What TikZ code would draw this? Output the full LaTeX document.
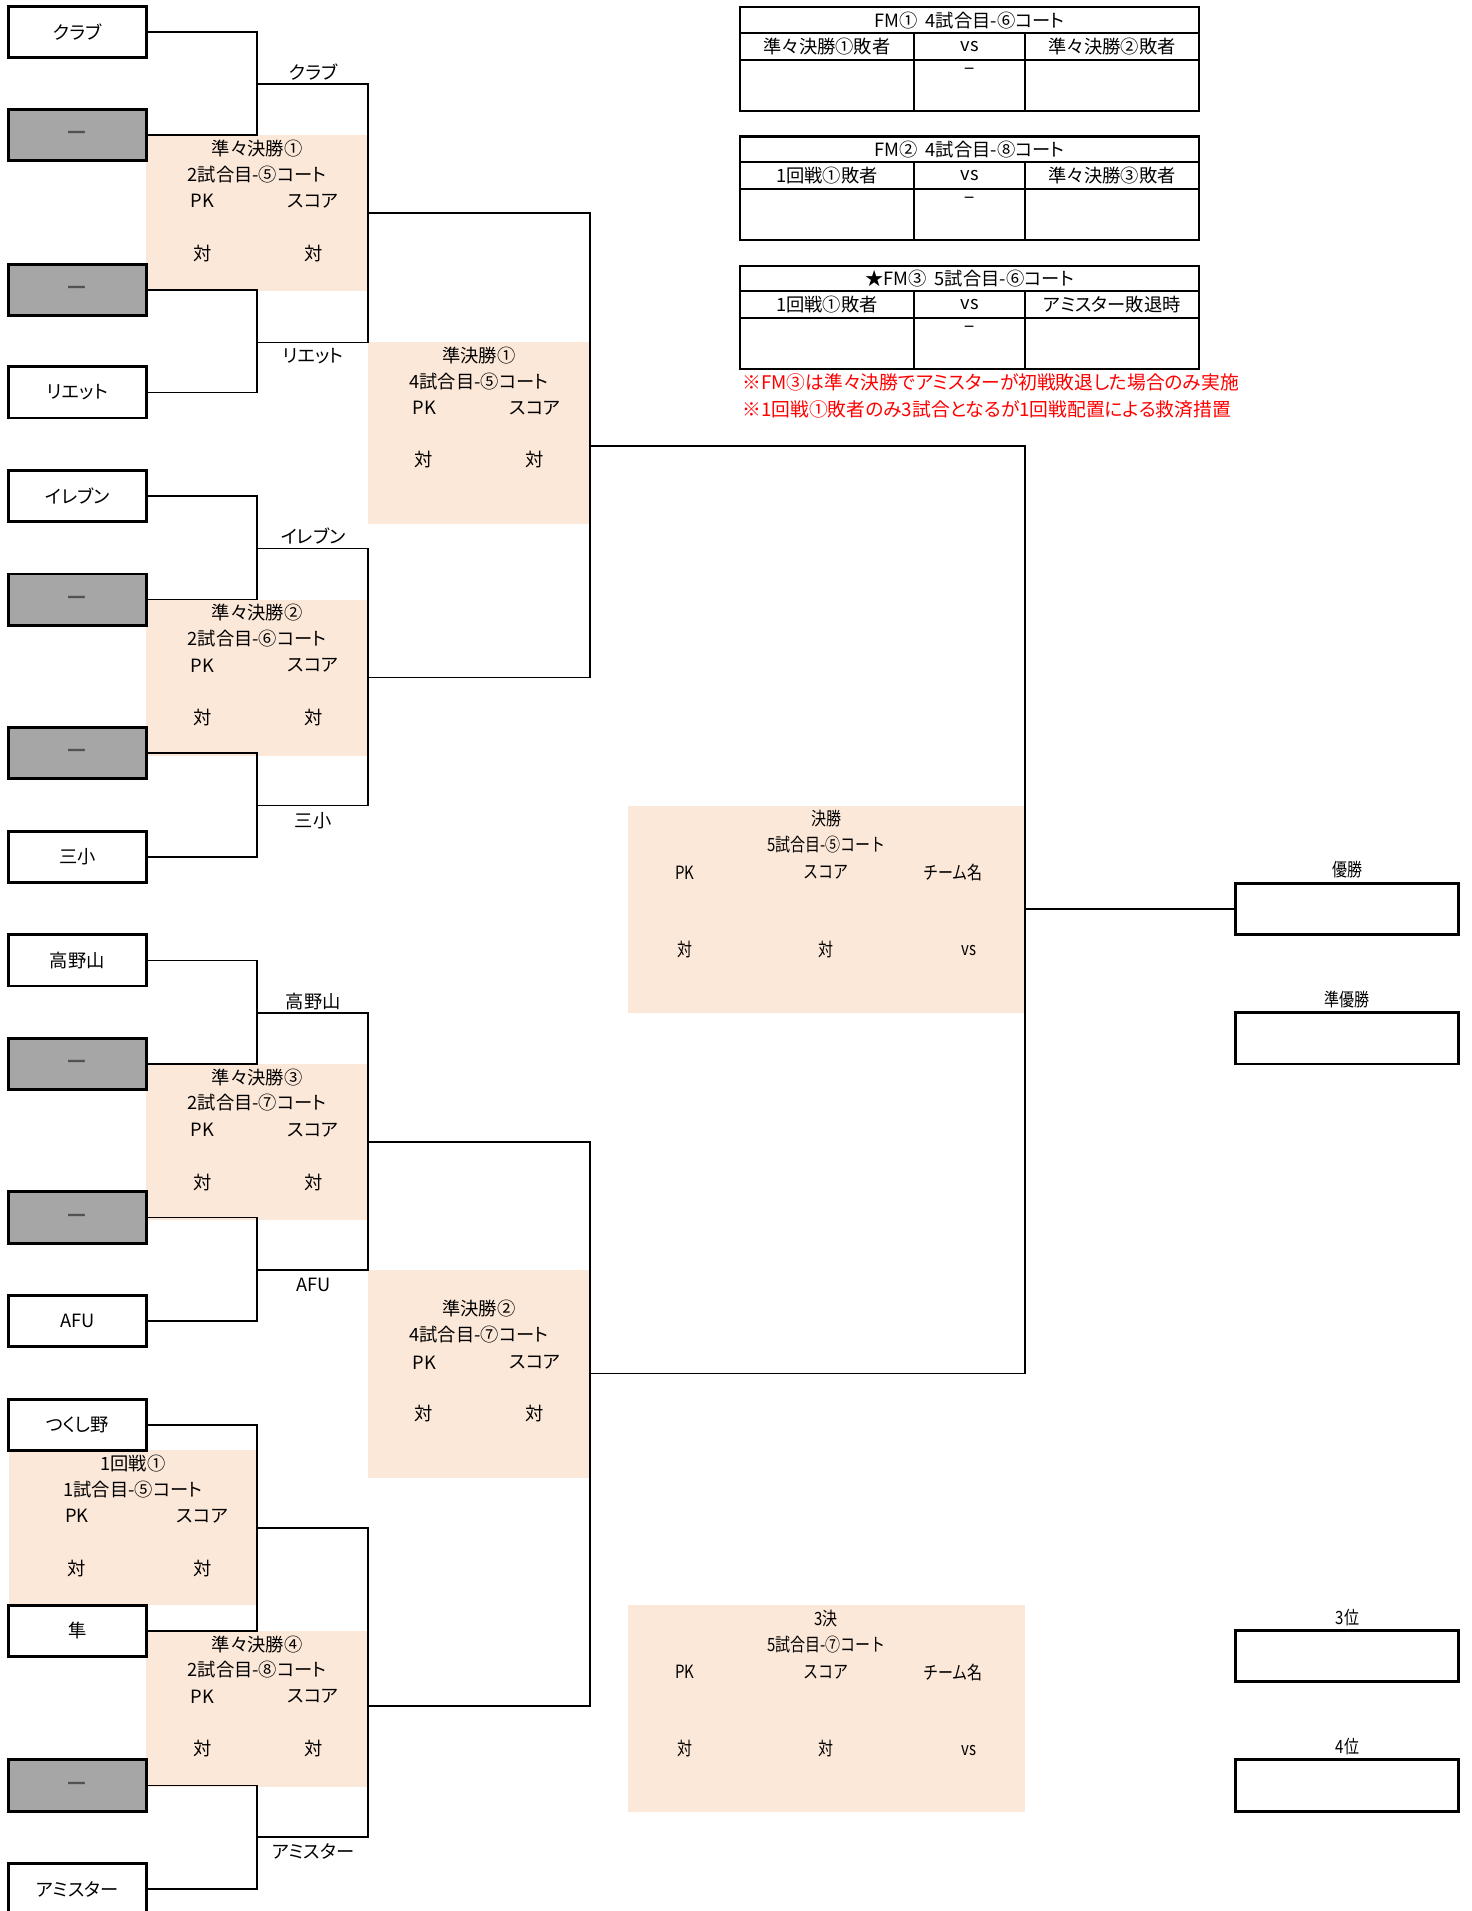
\documentclass[tikz,border=0pt]{standalone}
\usepackage{fontspec}
\setmainfont{Noto Sans CJK JP}[RawFeature=+palt]
\newfontfamily\narrowfont{Noto Sans CJK JP}[FakeStretch=0.82]
\newfontfamily\plainfont{Noto Sans CJK JP}
\usetikzlibrary{positioning}
\definecolor{peach}{RGB}{252,232,217}
\definecolor{slot}{RGB}{166,166,166}
\tikzset{
  team/.style={draw,line width=2.4pt,minimum width=113pt,minimum height=42pt,inner sep=0pt,outer sep=0pt,font=\fontsize{15}{17}\selectfont},
  bye/.style={team,fill=slot,text=black!68,font=\plainfont\bfseries\fontsize{17}{17}\selectfont},
  wire/.style={line width=1.4pt},
  match/.style={fill=peach,inner sep=0pt,outer sep=0pt,anchor=north west},
  txt/.style={inner sep=0pt,font=\fontsize{15}{17}\selectfont},
  ntxt/.style={inner sep=0pt,font=\narrowfont\fontsize{15}{17}\selectfont},
  cell/.style={draw,line width=1.8pt,inner sep=0pt,outer sep=0pt,anchor=north west,font=\fontsize{15}{17}\selectfont},
  prize/.style={draw,line width=2.4pt,minimum width=183pt,minimum height=42pt,inner sep=0pt,outer sep=0pt,anchor=north west},
  note/.style={inner sep=0pt,text=red,anchor=west,font=\fontsize{15.4}{17}\selectfont}
}

\begin{document}
\begin{tikzpicture}[x=1pt,y=-1pt]
\useasboundingbox (0,0) rectangle (1207,1568);
\clip (0,0) rectangle (1207,1568);

% match panels
\node[match,minimum width=182pt,minimum height=128pt] (qf1) at (120,111) {};
\node[match,minimum width=182pt,minimum height=128pt] (qf2) at (120,492) {};
\node[match,minimum width=182pt,minimum height=128pt] (qf3) at (120,873) {};
\node[match,minimum width=182pt,minimum height=128pt] (qf4) at (120,1338) {};
\node[match,minimum width=204pt,minimum height=127pt] (r1) at (7,1190) {};
\node[match,minimum width=182pt,minimum height=149pt] (sf1) at (302,281) {};
\node[match,minimum width=182pt,minimum height=171pt] (sf2) at (302,1042) {};
\node[match,minimum width=326pt,minimum height=170pt] (fnl) at (515,661) {};
\node[match,minimum width=326pt,minimum height=170pt] (thd) at (515,1317) {};

\node[txt] (qf1a) at ([yshift=-11pt]qf1.north) {準々決勝①}; \node[txt] (qf1b) at ([yshift=-32pt]qf1.north) {2試合目-⑤コート};
\node[txt] (qf1c) at ([xshift=-45pt,yshift=-54pt]qf1.north) {PK}; \node[txt] (qf1d) at ([xshift=46pt,yshift=-54pt]qf1.north) {スコア};
\node[txt] (qf1e) at ([xshift=-45pt,yshift=-97pt]qf1.north) {対}; \node[txt] (qf1f) at ([xshift=46pt,yshift=-97pt]qf1.north) {対};
\node[txt] (qf2a) at ([yshift=-11pt]qf2.north) {準々決勝②}; \node[txt] (qf2b) at ([yshift=-32pt]qf2.north) {2試合目-⑥コート};
\node[txt] (qf2c) at ([xshift=-45pt,yshift=-54pt]qf2.north) {PK}; \node[txt] (qf2d) at ([xshift=46pt,yshift=-54pt]qf2.north) {スコア};
\node[txt] (qf2e) at ([xshift=-45pt,yshift=-97pt]qf2.north) {対}; \node[txt] (qf2f) at ([xshift=46pt,yshift=-97pt]qf2.north) {対};
\node[txt] (qf3a) at ([yshift=-11pt]qf3.north) {準々決勝③}; \node[txt] (qf3b) at ([yshift=-32pt]qf3.north) {2試合目-⑦コート};
\node[txt] (qf3c) at ([xshift=-45pt,yshift=-54pt]qf3.north) {PK}; \node[txt] (qf3d) at ([xshift=46pt,yshift=-54pt]qf3.north) {スコア};
\node[txt] (qf3e) at ([xshift=-45pt,yshift=-97pt]qf3.north) {対}; \node[txt] (qf3f) at ([xshift=46pt,yshift=-97pt]qf3.north) {対};
\node[txt] (qf4a) at ([yshift=-11pt]qf4.north) {準々決勝④}; \node[txt] (qf4b) at ([yshift=-32pt]qf4.north) {2試合目-⑧コート};
\node[txt] (qf4c) at ([xshift=-45pt,yshift=-54pt]qf4.north) {PK}; \node[txt] (qf4d) at ([xshift=46pt,yshift=-54pt]qf4.north) {スコア};
\node[txt] (qf4e) at ([xshift=-45pt,yshift=-97pt]qf4.north) {対}; \node[txt] (qf4f) at ([xshift=46pt,yshift=-97pt]qf4.north) {対};
\node[txt] (r1a) at ([yshift=-11pt]r1.north) {1回戦①}; \node[txt] (r1b) at ([yshift=-32pt]r1.north) {1試合目-⑤コート};
\node[txt] (r1c) at ([xshift=-46pt,yshift=-54pt]r1.north) {PK}; \node[txt] (r1d) at ([xshift=57pt,yshift=-54pt]r1.north) {スコア};
\node[txt] (r1e) at ([xshift=-46pt,yshift=-97pt]r1.north) {対}; \node[txt] (r1f) at ([xshift=57pt,yshift=-97pt]r1.north) {対};
\node[txt] (sf1a) at ([yshift=-11pt]sf1.north) {準決勝①}; \node[txt] (sf1b) at ([yshift=-32pt]sf1.north) {4試合目-⑤コート};
\node[txt] (sf1c) at ([xshift=-45pt,yshift=-54pt]sf1.north) {PK}; \node[txt] (sf1d) at ([xshift=46pt,yshift=-54pt]sf1.north) {スコア};
\node[txt] (sf1e) at ([xshift=-45pt,yshift=-96pt]sf1.north) {対}; \node[txt] (sf1f) at ([xshift=46pt,yshift=-96pt]sf1.north) {対};
\node[txt] (sf2a) at ([yshift=-32pt]sf2.north) {準決勝②}; \node[txt] (sf2b) at ([yshift=-53pt]sf2.north) {4試合目-⑦コート};
\node[txt] (sf2c) at ([xshift=-45pt,yshift=-76pt]sf2.north) {PK}; \node[txt] (sf2d) at ([xshift=46pt,yshift=-76pt]sf2.north) {スコア};
\node[txt] (sf2e) at ([xshift=-45pt,yshift=-118pt]sf2.north) {対}; \node[txt] (sf2f) at ([xshift=46pt,yshift=-118pt]sf2.north) {対};
\node[ntxt] (fnla) at ([yshift=-11pt]fnl.north) {決勝}; \node[ntxt] (fnlb) at ([yshift=-32pt]fnl.north) {5試合目-⑤コート};
\node[ntxt] (fnlc) at ([xshift=-116pt,yshift=-55pt]fnl.north) {PK}; \node[ntxt] (fnld) at ([yshift=-55pt]fnl.north) {スコア}; \node[ntxt] (fnle) at ([xshift=104pt,yshift=-55pt]fnl.north) {チーム名};
\node[ntxt] (fnlf) at ([xshift=-116pt,yshift=-118pt]fnl.north) {対}; \node[ntxt] (fnlg) at ([yshift=-118pt]fnl.north) {対}; \node[ntxt] (fnlh) at ([xshift=117pt,yshift=-119pt]fnl.north) {vs};
\node[ntxt] (thda) at ([yshift=-11pt]thd.north) {3決}; \node[ntxt] (thdb) at ([yshift=-32pt]thd.north) {5試合目-⑦コート};
\node[ntxt] (thdc) at ([xshift=-116pt,yshift=-55pt]thd.north) {PK}; \node[ntxt] (thdd) at ([yshift=-55pt]thd.north) {スコア}; \node[ntxt] (thde) at ([xshift=104pt,yshift=-55pt]thd.north) {チーム名};
\node[ntxt] (thdf) at ([xshift=-116pt,yshift=-118pt]thd.north) {対}; \node[ntxt] (thdg) at ([yshift=-118pt]thd.north) {対}; \node[ntxt] (thdh) at ([xshift=117pt,yshift=-119pt]thd.north) {vs};

% teams
\node[team,anchor=north west] (t1) at (7,5) {クラブ};
\node[bye,below=43pt of t1] (t2) {—};
\node[bye,below=85pt of t2] (t3) {—};
\node[team,below=42pt of t3] (t4) {リエット};
\node[team,below=43pt of t4] (t5) {イレブン};
\node[bye,below=43pt of t5] (t6) {—};
\node[bye,below=84pt of t6] (t7) {—};
\node[team,below=43pt of t7] (t8) {三小};
\node[team,below=43pt of t8] (t9) {高野山};
\node[bye,below=43pt of t9] (t10) {—};
\node[bye,below=84pt of t10] (t11) {—};
\node[team,below=43pt of t11] (t12) {AFU};
\node[team,below=43pt of t12] (t13) {つくし野};
\node[team,below=127pt of t13] (t14) {隼};
\node[bye,below=85pt of t14] (t15) {—};
\node[team,below=43pt of t15] (t16) {アミスター};

% bracket
\coordinate (j1) at (211,69); \coordinate (j2) at (211,281);
\coordinate (j3) at (211,450); \coordinate (j4) at (211,661);
\coordinate (j5) at (211,831); \coordinate (j6) at (211,1042);
\coordinate (j7) at (211,1254); \coordinate (j8) at (211,1507);
\coordinate (q1) at (302,175); \coordinate (q2) at (302,556);
\coordinate (q3) at (302,937); \coordinate (q4) at (302,1400);
\coordinate (s1) at (484,366); \coordinate (s2) at (484,1127);
\coordinate (fin) at (841,746);
\draw[wire] (t1.east) -| (j1) |- (t2.east); \draw[wire] (t3.east) -| (j2) |- (t4.east);
\draw[wire] (t5.east) -| (j3) |- (t6.east); \draw[wire] (t7.east) -| (j4) |- (t8.east);
\draw[wire] (t9.east) -| (j5) |- (t10.east); \draw[wire] (t11.east) -| (j6) |- (t12.east);
\draw[wire] (t13.east) -| (j7) |- (t14.east); \draw[wire] (t15.east) -| (j8) |- (t16.east);
\draw[wire] (j1) -| (q1) |- (j2); \draw[wire] (j3) -| (q2) |- (j4);
\draw[wire] (j5) -| (q3) |- (j6); \draw[wire] (j7) -| (q4) |- (j8);
\draw[wire] (q1) -| (s1) |- (q2); \draw[wire] (q3) -| (s2) |- (q4);
\draw[wire] (s1) -| (fin) |- (s2);

\node[txt] (w1) at (257,59) {クラブ}; \node[txt] (w2) at (257,292) {リエット};
\node[txt] (w3) at (257,440) {イレブン}; \node[txt] (w4) at (257,673) {三小};
\node[txt] (w5) at (257,822) {高野山}; \node[txt] (w6) at (257,1054) {AFU};
\node[txt] (w8) at (257,1519) {アミスター};

% placings
\node[prize] (champ) at (1014,725) {}; \node[ntxt,above=4pt of champ] (champl) {優勝};
\node[prize] (second) at (1014,831) {}; \node[ntxt,above=4pt of second] (secondl) {準優勝};
\node[prize] (third) at (1014,1338) {}; \node[ntxt,above=4pt of third] (thirdl) {3位};
\node[prize] (fourth) at (1014,1444) {}; \node[ntxt,above=4pt of fourth] (fourthl) {4位};
\draw[wire] (fin) -- (champ.west);

% friendly matches
\node[cell,minimum width=377pt,minimum height=21pt] (fm1t) at (607,6) {FM①\ \ 4試合目-⑥コート};
\node[cell,minimum width=143pt,minimum height=22pt] (fm1a) at (607,27) {準々決勝①敗者};
\node[cell,minimum width=91pt,minimum height=22pt] (fm1b) at (750,27) {vs};
\node[cell,minimum width=143pt,minimum height=22pt] (fm1c) at (841,27) {準々決勝②敗者};
\node[cell,minimum width=143pt,minimum height=42pt] (fm1x) at (607,49) {};
\node[cell,minimum width=91pt,minimum height=42pt] (fm1y) at (750,49) {};
\node[cell,minimum width=143pt,minimum height=42pt] (fm1z) at (841,49) {};
\node[txt] (fm1d) at ([yshift=-10pt]fm1y.north) {−};
\node[cell,minimum width=377pt,minimum height=21pt] (fm2t) at (607,112) {FM②\ \ 4試合目-⑧コート};
\node[cell,minimum width=143pt,minimum height=22pt] (fm2a) at (607,133) {1回戦①敗者};
\node[cell,minimum width=91pt,minimum height=22pt] (fm2b) at (750,133) {vs};
\node[cell,minimum width=143pt,minimum height=22pt] (fm2c) at (841,133) {準々決勝③敗者};
\node[cell,minimum width=143pt,minimum height=42pt] (fm2x) at (607,155) {};
\node[cell,minimum width=91pt,minimum height=42pt] (fm2y) at (750,155) {};
\node[cell,minimum width=143pt,minimum height=42pt] (fm2z) at (841,155) {};
\node[txt] (fm2d) at ([yshift=-10pt]fm2y.north) {−};
\node[cell,minimum width=377pt,minimum height=21pt] (fm3t) at (607,218) {★FM③\ \ 5試合目-⑥コート};
\node[cell,minimum width=143pt,minimum height=22pt] (fm3a) at (607,239) {1回戦①敗者};
\node[cell,minimum width=91pt,minimum height=22pt] (fm3b) at (750,239) {vs};
\node[cell,minimum width=143pt,minimum height=22pt] (fm3c) at (841,239) {アミスター敗退時};
\node[cell,minimum width=143pt,minimum height=42pt] (fm3x) at (607,261) {};
\node[cell,minimum width=91pt,minimum height=42pt] (fm3y) at (750,261) {};
\node[cell,minimum width=143pt,minimum height=42pt] (fm3z) at (841,261) {};
\node[txt] (fm3d) at ([yshift=-10pt]fm3y.north) {−};
\node[note] (n1) at (609,314) {※FM③は準々決勝でアミスターが初戦敗退した場合のみ実施};
\node[note] (n2) at (609,336) {※1回戦①敗者のみ3試合となるが1回戦配置による救済措置};
\end{tikzpicture}
\end{document}
